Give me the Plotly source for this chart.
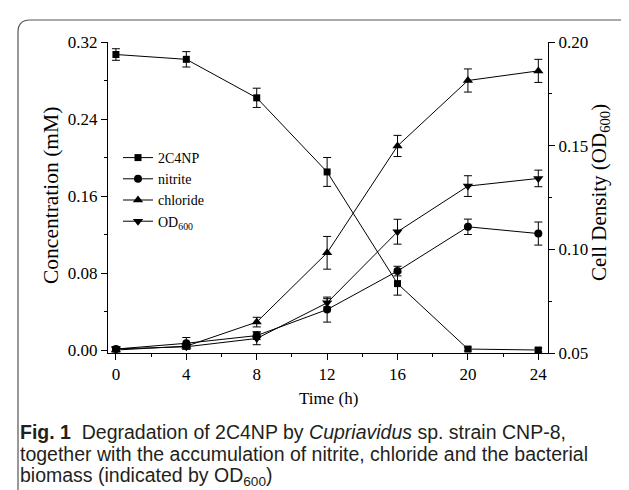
import plotly.graph_objects as go

# ---- data ----
time_h = [0, 4, 8, 12, 16, 20, 24]
c2c4np = [0.307, 0.302, 0.262, 0.185, 0.069, 0.001, 0.000]
c2c4np_err = [0.006, 0.008, 0.010, 0.015, 0.012, 0.002, 0.002]
nitrite = [0.001, 0.007, 0.015, 0.042, 0.082, 0.128, 0.121]
nitrite_err = [0.002, 0.006, 0.004, 0.013, 0.005, 0.008, 0.012]
chloride = [0.000, 0.004, 0.029, 0.101, 0.212, 0.280, 0.290]
chloride_err = [0.002, 0.003, 0.005, 0.017, 0.011, 0.012, 0.012]
od600 = [0.052, 0.053, 0.057, 0.0742, 0.1085, 0.1305, 0.1342]
od600_err = [0.001, 0.001, 0.003, 0.002, 0.006, 0.005, 0.004]

x_ticks = [0, 4, 8, 12, 16, 20, 24]
left_ticks = [0.00, 0.08, 0.16, 0.24, 0.32]
right_ticks = [0.05, 0.10, 0.15, 0.20]

SERIF = "Liberation Serif, Times New Roman, serif"
SANS = "Liberation Sans, Arial, sans-serif"

# figure geometry (pixels)
W, H = 629, 490
ML, MR, MT, MB = 100, 89, 34, 145
PW, PH = W - ML - MR, H - MT - MB


def px(xp):
    return (xp - ML) / PW


def py(yp):
    return (H - MB - yp) / PH


def err(vals):
    return dict(type="data", array=vals, color="black", thickness=1, width=4, visible=True)


fig = go.Figure()
fig.add_trace(go.Scatter(x=time_h, y=c2c4np, error_y=err(c2c4np_err), name="2C4NP",
                         mode="lines+markers", line=dict(color="black", width=1),
                         marker=dict(symbol="square", size=7, color="black")))
fig.add_trace(go.Scatter(x=time_h, y=nitrite, error_y=err(nitrite_err), name="nitrite",
                         mode="lines+markers", line=dict(color="black", width=1),
                         marker=dict(symbol="circle", size=8, color="black")))
fig.add_trace(go.Scatter(x=time_h, y=chloride, error_y=err(chloride_err), name="chloride",
                         mode="lines+markers", line=dict(color="black", width=1),
                         marker=dict(symbol="triangle-up", size=9, color="black")))
fig.add_trace(go.Scatter(x=time_h, y=od600, error_y=err(od600_err), name="OD<sub>600</sub>",
                         mode="lines+markers", line=dict(color="black", width=1),
                         marker=dict(symbol="triangle-down", size=9, color="black"),
                         yaxis="y2"))

axis_common = dict(showgrid=False, zeroline=False, showline=True, linecolor="black",
                   linewidth=1, ticks="outside", ticklen=6, tickwidth=1, tickcolor="black",
                   tickfont=dict(family=SERIF, size=17, color="black"))

fig.update_layout(
    width=W, height=H,
    margin=dict(l=ML, r=MR, t=MT, b=MB, autoexpand=False),
    paper_bgcolor="white", plot_bgcolor="white",
    showlegend=True,
    legend=dict(x=px(110), y=py(134), xanchor="left", yanchor="top",
                bgcolor="rgba(0,0,0,0)", itemwidth=30, tracegroupgap=0,
                font=dict(family=SERIF, size=14, color="black")),
    xaxis=dict(range=[-0.45, 24.55], tickvals=x_ticks,
               minor=dict(dtick=2, tick0=0, ticks="outside", ticklen=3, tickcolor="black"),
               **axis_common),
    yaxis=dict(range=[-0.0031, 0.32], tickvals=left_ticks, tickformat=".2f",
               minor=dict(dtick=0.04, tick0=0, ticks="outside", ticklen=3, tickcolor="black"),
               **axis_common),
    yaxis2=dict(range=[0.05, 0.20], tickvals=right_ticks, tickformat=".2f", overlaying="y",
                side="right",
                minor=dict(dtick=0.025, tick0=0.05, ticks="outside", ticklen=3, tickcolor="black"),
                **axis_common),
)

# axis titles
fig.add_annotation(text="Concentration (mM)", xref="paper", yref="paper", x=px(43), y=py(188),
                   xanchor="center", yanchor="middle", textangle=-90, showarrow=False,
                   font=dict(family=SERIF, size=21.5, color="black"))
fig.add_annotation(text="Cell Density (OD<sub>600</sub>)", xref="paper", yref="paper", x=px(592),
                   y=py(185), xanchor="center", yanchor="middle", textangle=-90, showarrow=False,
                   font=dict(family=SERIF, size=21, color="black"))
fig.add_annotation(text="Time (h)", xref="paper", yref="paper", x=px(320), y=py(390),
                   xanchor="center", yanchor="middle", showarrow=False,
                   font=dict(family=SERIF, size=17, color="black"))

# caption
cap_lines = [
    "<b>Fig. 1</b>&nbsp; Degradation of 2C4NP by <i>Cupriavidus</i> sp. strain CNP-8,",
    "together with the accumulation of nitrite, chloride and the bacterial",
    "biomass (indicated by OD<sub>600</sub>)",
]
cap_y = [424, 446, 468]
for t, yy in zip(cap_lines, cap_y):
    fig.add_annotation(text=t, xref="paper", yref="paper", x=px(11), y=py(yy),
                       xanchor="left", yanchor="middle", showarrow=False, align="left",
                       borderpad=0,
                       font=dict(family=SANS, size=19.5, color="#231f20"))

# rounded frame
x0, x1, yt, yb = px(10), px(628), py(12), py(500)
rx, ry = 12 / PW, 12 / PH
path = (f"M {x0},{yb} L {x0},{yt - ry} Q {x0},{yt} {x0 + rx},{yt} "
        f"L {x1 - rx},{yt} Q {x1},{yt} {x1},{yt - ry} L {x1},{yb}")
fig.add_shape(type="path", path=path, xref="paper", yref="paper",
              line=dict(color="#555555", width=1.2), layer="below")

fig.write_html("out.html")
